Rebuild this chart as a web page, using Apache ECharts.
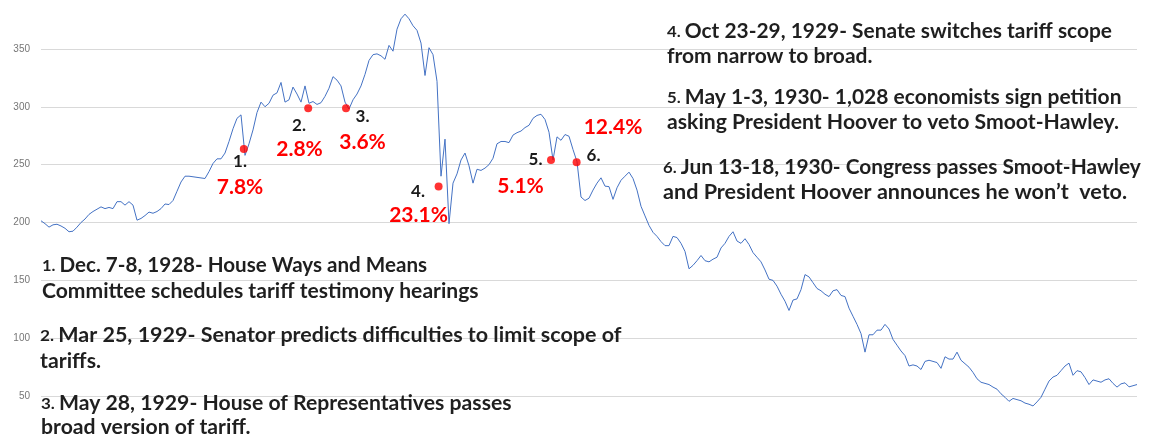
<!DOCTYPE html>
<html><head><meta charset="utf-8">
<script src="https://cdn.jsdelivr.net/npm/echarts/dist/echarts.min.js"></script>
<style>html,body{margin:0;padding:0;background:#fff;overflow:hidden;width:1149px;height:439px}
#c{position:absolute;left:0;top:-9px;width:1149px;height:463px}</style>
</head><body><div id="c"></div>
<script>
// Dow Jones Industrial Average, roughly weekly readings, 1928-1932
const dowValues = [
 201.5,199,196,198,198.5,197,195,192,192.5,196,
 200,203,207,209.5,211.5,213.5,212,213,212,218,
 218,215,218,215,202,203.5,206,209,208,209.5,
 212,216,215.5,219,227,235,240,240,239.5,239,
 238.5,238,244,251,255,255,260,270,281,290,
 293,258,268,280,295,
 304,300,303,310,312,321,304,306,317,311,
 304,318,303,304.5,302,303.5,309,316,326,323,
 318,304,298,306,311,318,328,340,345,345.7,
 344,341,353,348,367,376,380,376,370,366,
 355,327,351,345,322,
 240,272,199,234,242,254,260,249,234,246,
 245,247,250,255.5,268,270,270,269,275.5,277.6,
 279,282,284,290,292.5,293.5,289,278,254,274,
 271,276,274.5,263,252.5,222,219,221,228,234,
 238.6,231.4,231,220,230,236.5,240,243.5,238,228,
 214,205.7,197.5,191.5,188,183.5,180,180,
 188,187,182,175,160,163,167,171.5,167,166,
 168.3,170,178,182,188,192,184,182,186,181,
 174,170,166,159,151,150,145,138,132,124,
 133,134,142,155,153,148,143,141,138,136,
 141,142,137,136,126,119,112,104,88,103,
 103,107,107,112,108,
 99,94,89,85,76,77,76,73,80,81,
 80,79,74,84,82,82,88,81,78,75,
 70.5,65,62,61,60,57.8,56,52,49,45.5,
 48,47,46,44,43,41.5,45,49,56,63,
 66.5,68,72,76,78.5,68,72,71,66,60,
 64,63,62,64,65,61,57.8,60.6,61.5,58,
 59,60
];
const yTickLabels = [50,100,150,200,250,300,350];
// events: position along the series (week index) and level
const eventIndex = [50.7, 66.8, 76.25, 99.4, 127.5, 133.9];
const eventValue = [263.5, 298.7, 298.7, 231, 254, 252];
const eventNumbers = ['1.','2.','3.','4.','5.','6.'];
const eventDrops = ['7.8%','2.8%','3.6%','23.1%','5.1%','12.4%'];
const noteLines = [
 ['1. ', 'Dec. 7-8, 1928- House Ways and Means'],
 ['', 'Committee schedules tariff testimony hearings'],
 ['2. ', 'Mar 25, 1929- Senator predicts difficulties to limit scope of'],
 ['', 'tariffs.'],
 ['3. ', 'May 28, 1929- House of Representatives passes'],
 ['', 'broad version of tariff.'],
 ['4. ', 'Oct 23-29, 1929- Senate switches tariff scope'],
 ['', 'from narrow to broad.'],
 ['5. ', 'May 1-3, 1930- 1,028 economists sign petition'],
 ['', 'asking President Hoover to veto Smoot-Hawley.'],
 ['6. ', 'Jun 13-18, 1930- Congress passes Smoot-Hawley'],
 ['', 'and President Hoover announces he won\u2019t  veto.']
];

// layout (page pixel positions; chart div is shifted up by OFF px)
const OFF = 9;
const notePos = [[42,266],[42,292],[40,336],[40,361.5],[41,404],[41,428],
                 [667,31.5],[667,56.5],[667,98],[667,123],[663,168],[663,193]];
const noteScale = [1.03,1.055,1.075,1.065,1.06,1.06,1.045,1.05,1.05,1.06,1.045,1.08];
const numPos = [[240,162],[299,126],[362.5,117],[418,191.7],[535.5,160],[593.5,155.5]];
const dropPos = [[240,187.5],[299.5,149],[362.5,142.5],[418.5,215.5],[520.5,186],[613,127.5]];

const FONT = 'Lato, "Open Sans", sans-serif';
const graphics = [];
noteLines.forEach((ln, i) => {
  const txt = (ln[0] ? '{n|' + ln[0] + '}' : '') + '{t|' + ln[1] + '}';
  graphics.push({type:'text', x: notePos[i][0], y: notePos[i][1] + OFF, scaleX: noteScale[i], z: 10,
    style:{text: txt, align:'left', verticalAlign:'middle', textAlign:'left', textVerticalAlign:'middle',
      rich:{ n:{fontFamily:FONT, fontWeight:'bold', fontSize:16, fill:'#1f1f1f'},
             t:{fontFamily:FONT, fontWeight:'bold', fontSize:20, fill:'#1f1f1f'} }}});
});
eventNumbers.forEach((s, i) => {
  graphics.push({type:'text', x:numPos[i][0], y:numPos[i][1] + OFF, z:10,
    style:{text:s, fontFamily:FONT, fontWeight:'bold', fontSize:17, fill:'#1a1a1a',
      align:'center', verticalAlign:'middle', textAlign:'center', textVerticalAlign:'middle'}});
});
eventDrops.forEach((s, i) => {
  graphics.push({type:'text', x:dropPos[i][0], y:dropPos[i][1] + OFF, z:10,
    style:{text:s, fontFamily:FONT, fontWeight:'bold', fontSize:21, fill:'#ff0000',
      align:'center', verticalAlign:'middle', textAlign:'center', textVerticalAlign:'middle'}});
});

const chart = echarts.init(document.getElementById('c'), null, {renderer:'canvas'});
chart.setOption({
  animation:false,
  backgroundColor:'#ffffff',
  grid:{left:41, right:12, top:0, bottom:0, containLabel:false},
  xAxis:{type:'value', min:0, max:dowValues.length-1, show:false},
  yAxis:{type:'value', min:0, max:400, interval:50,
    axisLine:{show:false}, axisTick:{show:false},
    splitLine:{lineStyle:{color:'#d9d9d9', width:1}},
    axisLabel:{margin:11, color:'#767676', fontSize:10, fontFamily:'"Liberation Sans", Arial, sans-serif',
      formatter: v => yTickLabels.indexOf(v) >= 0 ? String(v) : ''}},
  series:[
    {type:'line', data: dowValues.map((v,i)=>[i,v]), showSymbol:false, symbol:'none',
     lineStyle:{color:'#4472C4', width:1}, z:2},
    {type:'scatter', data: eventIndex.map((x,i)=>[x, eventValue[i]]), symbol:'circle', symbolSize:8,
     itemStyle:{color:'#ff0000'}, z:5}
  ],
  graphic: graphics
});
</script></body></html>
